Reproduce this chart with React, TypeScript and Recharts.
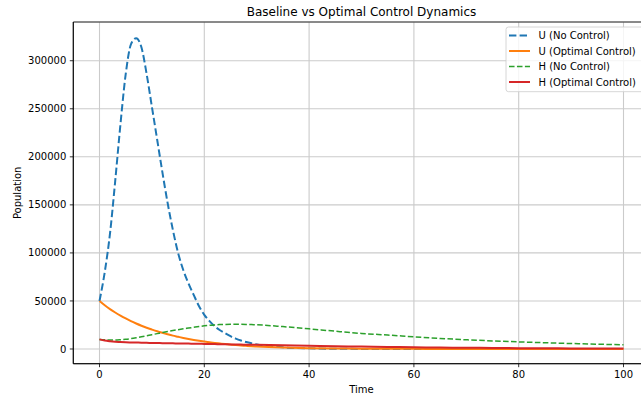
import React from 'react';
import { LineChart, Line, XAxis, YAxis, CartesianGrid, ReferenceArea } from 'recharts';

const time = [
  0, 1, 2, 3, 4, 5, 6, 7, 8, 9, 10, 11, 12, 13, 14, 15, 16, 17, 18, 19, 20,
  21, 22, 23, 24, 25, 26, 27, 28, 29, 30, 35, 40, 45, 50, 55, 60, 65, 70, 75,
  80, 85, 90, 95, 100,
];

const uNoControl = [
  50000, 80000, 120000, 175000, 234000, 286000, 317000, 323500, 314000, 286000, 252000,
  218000, 184000, 152000, 124000, 100000, 82000, 68000, 56000, 44500, 35500,
  29000, 23500, 19500, 16300, 13300, 10800, 8800, 7200, 5900, 4800, 1700, 650, 260, 110, 50,
  25, 12, 6, 3, 2, 1, 0, 0, 0,
];

const uOptimal = [
  50000, 45500, 41500, 38000, 34800, 31800, 29000, 26500, 24200, 22100, 20200,
  18400, 16800, 15300, 13900, 12700, 11500, 10400, 9400, 8500, 7700,
  7000, 6300, 5700, 5100, 4600, 4100, 3700, 3300, 2900, 2600, 1500, 900, 550, 350, 220,
  150, 100, 70, 50, 40, 30, 20, 15, 10,
];

const hNoControl = [
  10000, 9500, 9300, 9300, 9600, 10100, 10800, 11700, 12700, 13800, 14900,
  16000, 17100, 18200, 19200, 20100, 21000, 21800, 22600, 23400, 24100,
  24700, 25100, 25400, 25600, 25700, 25700, 25700, 25600, 25400, 25200, 23300, 21000, 18500, 16200, 14500,
  12700, 11000, 9600, 8400, 7400, 6500, 5700, 5000, 4400,
];

const hOptimal = [
  10000, 8800, 8100, 7600, 7300, 7000, 6800, 6700, 6550, 6400, 6300,
  6200, 6100, 6000, 5900, 5800, 5700, 5600, 5500, 5400, 5300,
  5200, 5100, 5000, 4900, 4800, 4700, 4600, 4500, 4400, 4300, 3800, 3300, 2900, 2500, 2100,
  1800, 1500, 1300, 1100, 900, 750, 600, 500, 400,
];

const seriesNames = ['U (No Control)', 'U (Optimal Control)', 'H (No Control)', 'H (Optimal Control)'];
const xTicks = [0, 20, 40, 60, 80, 100];
const yTicks = [0, 50000, 100000, 150000, 200000, 250000, 300000];
const titleText = 'Baseline vs Optimal Control Dynamics';
const xLabelText = 'Time';
const yLabelText = 'Population';

const X_DOMAIN: [number, number] = [-5, 105];
const Y_DOMAIN: [number, number] = [-15300, 340300];

const data = time.map((t, i) => ({
  t,
  uNo: uNoControl[i],
  uOpt: uOptimal[i],
  hNo: hNoControl[i],
  hOpt: hOptimal[i],
}));

const FONT = '"DejaVu Sans", sans-serif';

const seriesStyles = [
  { key: 'uNo', color: '#1f77b4', width: 2, dash: '7.4 3.2' },
  { key: 'uOpt', color: '#ff7f0e', width: 2, dash: undefined },
  { key: 'hNo', color: '#2ca02c', width: 1.5, dash: '5.55 2.4' },
  { key: 'hOpt', color: '#d62728', width: 2, dash: undefined },
];

const CHART_W = 660;
const CHART_H = 399;
const PLOT_LEFT = 73.3;
const PLOT_TOP = 22;
const PLOT_RIGHT = 649.7;
const PLOT_BOTTOM = 363.7;

export default function App() {
  const plotCx = (PLOT_LEFT + PLOT_RIGHT) / 2;
  const plotCy = (PLOT_TOP + PLOT_BOTTOM) / 2;
  const legendX = 506;
  const legendY = 27;
  const legendW = 139;
  const legendH = 64.7;
  const rowY = [35.5, 51, 66.5, 82];
  return (
    <div
      style={{
        position: 'absolute',
        left: 0,
        top: 0,
        width: 641,
        height: 399,
        overflow: 'hidden',
        background: '#ffffff',
        fontFamily: FONT,
      }}
    >
      <LineChart
        width={CHART_W}
        height={CHART_H}
        data={data}
        margin={{ top: PLOT_TOP, right: CHART_W - PLOT_RIGHT, left: 0, bottom: 0 }}
        style={{ fontFamily: FONT }}
      >
        <CartesianGrid stroke="#cbcbcb" strokeWidth={1.1} />
        <XAxis
          dataKey="t"
          type="number"
          domain={X_DOMAIN}
          ticks={xTicks}
          allowDataOverflow
          height={CHART_H - PLOT_BOTTOM}
          tickSize={3.5}
          tickMargin={3.5}
          tick={{ fontSize: 10, fill: '#000', fontFamily: FONT }}
          tickLine={{ stroke: '#000', strokeWidth: 0.8 }}
          axisLine={{ stroke: '#000', strokeWidth: 0.8 }}
        />
        <YAxis
          type="number"
          domain={Y_DOMAIN}
          ticks={yTicks}
          allowDataOverflow
          width={PLOT_LEFT}
          tickSize={3.5}
          tickMargin={3.5}
          tick={{ fontSize: 10, fill: '#000', fontFamily: FONT }}
          tickLine={{ stroke: '#000', strokeWidth: 0.8 }}
          axisLine={{ stroke: '#000', strokeWidth: 0.8 }}
        />
        <ReferenceArea
          x1={X_DOMAIN[0]}
          x2={X_DOMAIN[1]}
          y1={Y_DOMAIN[0]}
          y2={Y_DOMAIN[1]}
          fill="none"
          fillOpacity={0}
          stroke="#000"
          strokeWidth={0.8}
          ifOverflow="visible"
        />
        {seriesStyles.map((s, i) => (
          <Line
            key={s.key}
            dataKey={s.key}
            name={seriesNames[i]}
            type="monotone"
            stroke={s.color}
            strokeWidth={s.width}
            strokeDasharray={s.dash}
            dot={false}
            activeDot={false}
            isAnimationActive={false}
          />
        ))}
      </LineChart>
      <svg
        width={641}
        height={399}
        style={{ position: 'absolute', left: 0, top: 0, pointerEvents: 'none' }}
      >
        <text
          x={plotCx}
          y={16}
          textAnchor="middle"
          fontSize={12}
          fontFamily={FONT}
          fill="#000"
        >
          {titleText}
        </text>
        <text
          x={plotCx}
          y={393}
          textAnchor="middle"
          fontSize={10}
          fontFamily={FONT}
          fill="#000"
        >
          {xLabelText}
        </text>
        <text
          x={18}
          y={plotCy}
          transform={`rotate(-90 18 ${plotCy})`}
          textAnchor="middle"
          dominantBaseline="central"
          fontSize={10}
          fontFamily={FONT}
          fill="#000"
        >
          {yLabelText}
        </text>
        <rect
          x={legendX}
          y={legendY}
          width={legendW}
          height={legendH}
          rx={2.5}
          ry={2.5}
          fill="#ffffff"
          fillOpacity={0.8}
          stroke="#cccccc"
          strokeWidth={0.8}
        />
        {seriesStyles.map((s, i) => (
          <g key={s.key}>
            <line
              x1={509}
              x2={530}
              y1={rowY[i]}
              y2={rowY[i]}
              stroke={s.color}
              strokeWidth={s.width}
              strokeDasharray={s.dash}
            />
            <text
              x={538.5}
              y={rowY[i]}
              dominantBaseline="central"
              fontSize={10}
              fontFamily={FONT}
              fill="#000"
            >
              {seriesNames[i]}
            </text>
          </g>
        ))}
      </svg>
    </div>
  );
}
